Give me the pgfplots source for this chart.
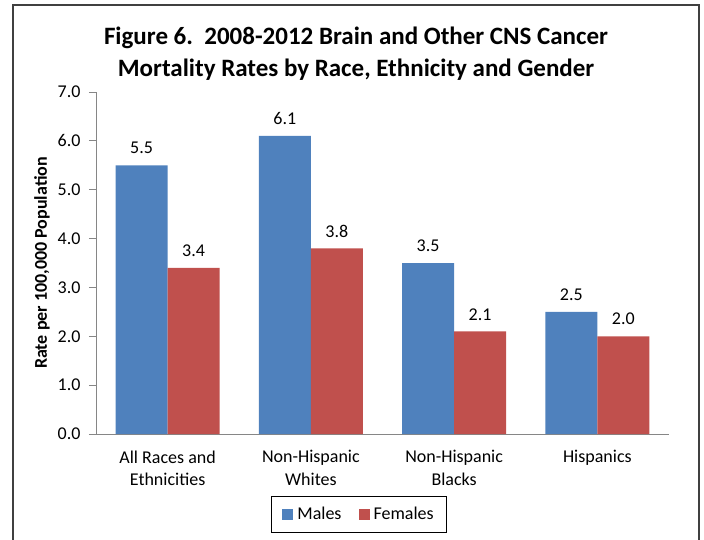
\documentclass[border=0pt]{standalone}
\usepackage{pgfplots}
\pgfplotsset{compat=1.18}
\usepackage{fontspec}
\setmainfont{Carlito}
\definecolor{mblue}{HTML}{4F81BD}
\definecolor{mred}{HTML}{C0504D}
\definecolor{axgray}{HTML}{868686}
\begin{document}
\begin{tikzpicture}[x=1pt,y=1pt]
\useasboundingbox (0,0) rectangle (704,-539);
\draw[color=black!75, line width=1.5pt] (13,-545) -- (13,-5) -- (699,-5) -- (699,-545);
\node[font=\bfseries\fontsize{25}{32}\selectfont, align=center] at (356,-54) {Figure 6.\ \ 2008-2012 Brain and Other CNS Cancer\\Mortality Rates by Race, Ethnicity and Gender};
\begin{axis}[
  at={(96pt,-434pt)}, anchor=south west,
  scale only axis, width=573pt, height=342pt,
  ymin=0, ymax=7, xmin=-0.5, xmax=3.5,
  ybar=0pt, bar width=52pt,
  axis lines*=left,
  axis line style={draw=axgray, line width=0.8pt},
  ytick={0,1,...,7},
  tick align=outside,
  major tick length=7pt,
  every tick/.style={draw=axgray, line width=0.8pt},
  xtick={0,1,2,3},
  major x tick style={draw=none},
  xticklabels={{All Races and\\Ethnicities},{Non-Hispanic\\Whites},{Non-Hispanic\\Blacks},{Hispanics}},
  xticklabel style={align=center, font=\fontsize{18}{22.5}\selectfont, text depth=0pt, yshift=-6pt},
  yticklabel style={font=\fontsize{18}{20}\selectfont, xshift=-5pt, /pgf/number format/fixed, /pgf/number format/fixed zerofill, /pgf/number format/precision=1},
  /pgf/number format/assume math mode=true,
  ylabel={Rate per 100,000 Population},
  every axis y label/.style={at={(axis description cs:0,0.5)}, xshift=-54pt, rotate=90, anchor=center, font=\bfseries\fontsize{18}{20}\selectfont},
  nodes near coords={\pgfmathprintnumber[fixed,fixed zerofill,precision=1]{\pgfplotspointmeta}},
  every node near coord/.append style={anchor=south, inner sep=0pt, yshift=11pt, font=\fontsize{18}{20}\selectfont, text=black},
  legend style={at={(0.459,-0.234)}, anchor=center, legend columns=2, draw=black, line width=0.8pt, font=\fontsize{18}{20}\selectfont,
    /tikz/every even column/.append style={column sep=15pt},
    /tikz/every odd column/.append style={column sep=2pt},
    inner xsep=11pt, inner ysep=9pt},
  legend image code/.code={\fill[#1] (0pt,-5.5pt) rectangle (11pt,5.5pt);},
]
\addplot[fill=mblue, draw=none] coordinates {(0,5.5) (1,6.1) (2,3.5) (3,2.5)};
\addplot[fill=mred, draw=none] coordinates {(0,3.4) (1,3.8) (2,2.1) (3,2.0)};
\legend{Males, Females}
\end{axis}
\end{tikzpicture}
\end{document}
